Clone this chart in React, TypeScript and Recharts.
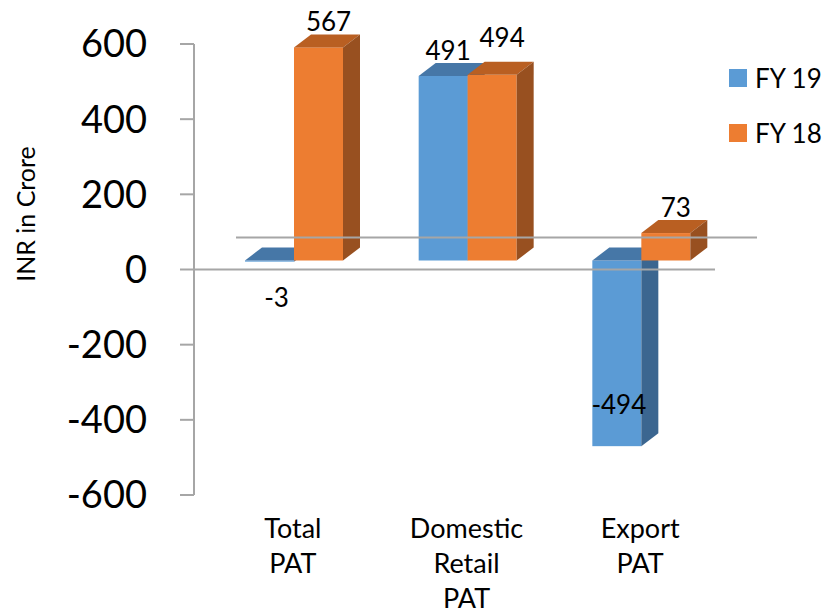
import React from 'react';
import { BarChart, Bar, XAxis, YAxis, ReferenceLine, LabelList, Legend } from 'recharts';

// Profit after tax by segment, INR crore
const categories = ['Total PAT', 'Domestic Retail PAT', 'Export PAT'];
const fy19Values = [-3, 491, -494];
const fy18Values = [567, 494, 73];
const yTicks = [-600, -400, -200, 0, 200, 400, 600];
const seriesNames = ['FY 19', 'FY 18'];

const data = categories.map((name, i) => ({ name, fy19: fy19Values[i], fy18: fy18Values[i] }));

const FONT = 'Lato, Carlito, Calibri, sans-serif';
const LINE = '#A6A6A6';

// Oblique projection used for the 3D look
const SHIFT_X = 13;
const SHIFT_Y = -9;
const DEPTH_X = 17;
const DEPTH_Y = -13;
const FLOOR_X = 42;
const FLOOR_Y = -32;

const palettes = {
  fy19: { front: '#5B9BD5', top: '#4677A7', side: '#3B6690' },
  fy18: { front: '#ED7D31', top: '#B95F22', side: '#985020' },
};

type Palette = { front: string; top: string; side: string };

const makeBox = (p: Palette) => (props: any) => {
  const { x, y, width, height } = props;
  if (x == null || y == null) return null;
  const top = Math.min(y, y + height) + SHIFT_Y;
  const h = Math.abs(height);
  const left = x + SHIFT_X;
  const right = left + width;
  const bottom = top + h;
  return (
    <g>
      <rect x={left} y={top} width={width} height={Math.max(h, 0.6)} fill={p.front} />
      <polygon
        points={`${left},${top} ${right},${top} ${right + DEPTH_X},${top + DEPTH_Y} ${left + DEPTH_X},${top + DEPTH_Y}`}
        fill={p.top}
      />
      <polygon
        points={`${right},${top} ${right + DEPTH_X},${top + DEPTH_Y} ${right + DEPTH_X},${bottom + DEPTH_Y} ${right},${bottom}`}
        fill={p.side}
      />
    </g>
  );
};

// Two positive neighbours of similar height would collide: nudge them apart.
const crowded = (i: number) =>
  fy19Values[i] >= 0 && fy18Values[i] >= 0 && Math.abs(fy19Values[i] - fy18Values[i]) < 60;

const makeValueLabel = (series: 'fy19' | 'fy18') => (props: any) => {
  const { x, y, width, height, value, index } = props;
  if (x == null || y == null) return null;
  const top = Math.min(y, y + height) + SHIFT_Y;
  const h = Math.abs(height);
  let cx = x + SHIFT_X + width / 2 + 10;
  let baseline: number;
  if (value >= 0) {
    baseline = top - 16;
    if (crowded(index)) {
      if (series === 'fy19') cx -= 5;
      else baseline -= 12;
    }
  } else if (h > 80) {
    cx = x + SHIFT_X + width / 2 + 2;
    baseline = top + h - 32;
  } else {
    cx = x + SHIFT_X + width / 2 + 7;
    baseline = top + h + 45;
  }
  return (
    <text x={cx} y={baseline} textAnchor="middle" fontFamily={FONT} fontSize={26} fill="#000">
      {value}
    </text>
  );
};

const CategoryTick = (props: any) => {
  const { x, y, payload } = props;
  const lines = String(payload.value).split(' ');
  const cx = x + 12;
  return (
    <text x={cx} y={y} textAnchor="middle" fontFamily={FONT} fontSize={27} fill="#000">
      {lines.map((line, i) => (
        <tspan key={i} x={cx} dy={i === 0 ? 43 : 35}>
          {line}
        </tspan>
      ))}
    </text>
  );
};

const AxisTitle = (props: any) => {
  const vb = props.viewBox || { x: 0, y: 44, width: 194, height: 451 };
  const cx = vb.x + 25;
  const cy = vb.y + vb.height * 0.377;
  return (
    <text
      transform={`translate(${cx},${cy}) rotate(-90)`}
      textAnchor="middle"
      dominantBaseline="central"
      fontFamily={FONT}
      fontSize={25}
      fill="#000"
    >
      INR in Crore
    </text>
  );
};

const LegendContent = (props: any) => {
  const items = [...(props.payload || [])].sort(
    (a: any, b: any) => seriesNames.indexOf(a.value) - seriesNames.indexOf(b.value)
  );
  return (
    <div style={{ fontFamily: FONT, fontSize: 26, color: '#000' }}>
      {items.map((item: any) => (
        <div key={item.value} style={{ display: 'flex', alignItems: 'center', height: 55 }}>
          <span style={{ width: 18, height: 18, background: item.color, marginRight: 8, display: 'inline-block' }} />
          <span>{item.value}</span>
        </div>
      ))}
    </div>
  );
};

const floorBack = (p: any) => (
  <line
    x1={p.x1 + FLOOR_X}
    y1={p.y1 + FLOOR_Y}
    x2={p.x2 + FLOOR_X}
    y2={p.y2 + FLOOR_Y}
    stroke={LINE}
    strokeWidth={2}
  />
);

export default function App() {
  return (
    <div style={{ position: 'absolute', left: 0, top: 0, background: '#fff' }}>
      <BarChart
        width={834}
        height={613}
        data={data}
        margin={{ top: 44, right: 119, bottom: 0, left: 0 }}
        barGap={0}
        barSize={49}
      >
        <XAxis
          dataKey="name"
          height={118}
          axisLine={false}
          tickLine={false}
          tickSize={0}
          tickMargin={0}
          interval={0}
          tick={<CategoryTick />}
        />
        <YAxis
          type="number"
          domain={[-600, 600]}
          ticks={yTicks}
          interval={0}
          width={194}
          tickSize={14}
          tickMargin={33}
          axisLine={{ stroke: LINE, strokeWidth: 2 }}
          tickLine={{ stroke: LINE, strokeWidth: 2 }}
          tick={{ fontFamily: FONT, fontSize: 38, fill: '#000' }}
          label={<AxisTitle />}
        />
        <ReferenceLine y={0} stroke={LINE} strokeWidth={2} shape={floorBack} />
        <Legend
          content={<LegendContent />}
          layout="horizontal"
          verticalAlign="middle"
          align="center"
          wrapperStyle={{ position: 'absolute', left: 729, top: 50, width: 105, height: 110 }}
        />
        <Bar dataKey="fy19" name={seriesNames[0]} fill={palettes.fy19.front} isAnimationActive={false} shape={makeBox(palettes.fy19)}>
          <LabelList dataKey="fy19" content={makeValueLabel('fy19')} />
        </Bar>
        <Bar dataKey="fy18" name={seriesNames[1]} fill={palettes.fy18.front} isAnimationActive={false} shape={makeBox(palettes.fy18)}>
          <LabelList dataKey="fy18" content={makeValueLabel('fy18')} />
        </Bar>
        <ReferenceLine y={0} stroke={LINE} strokeWidth={2} />
      </BarChart>
    </div>
  );
}
